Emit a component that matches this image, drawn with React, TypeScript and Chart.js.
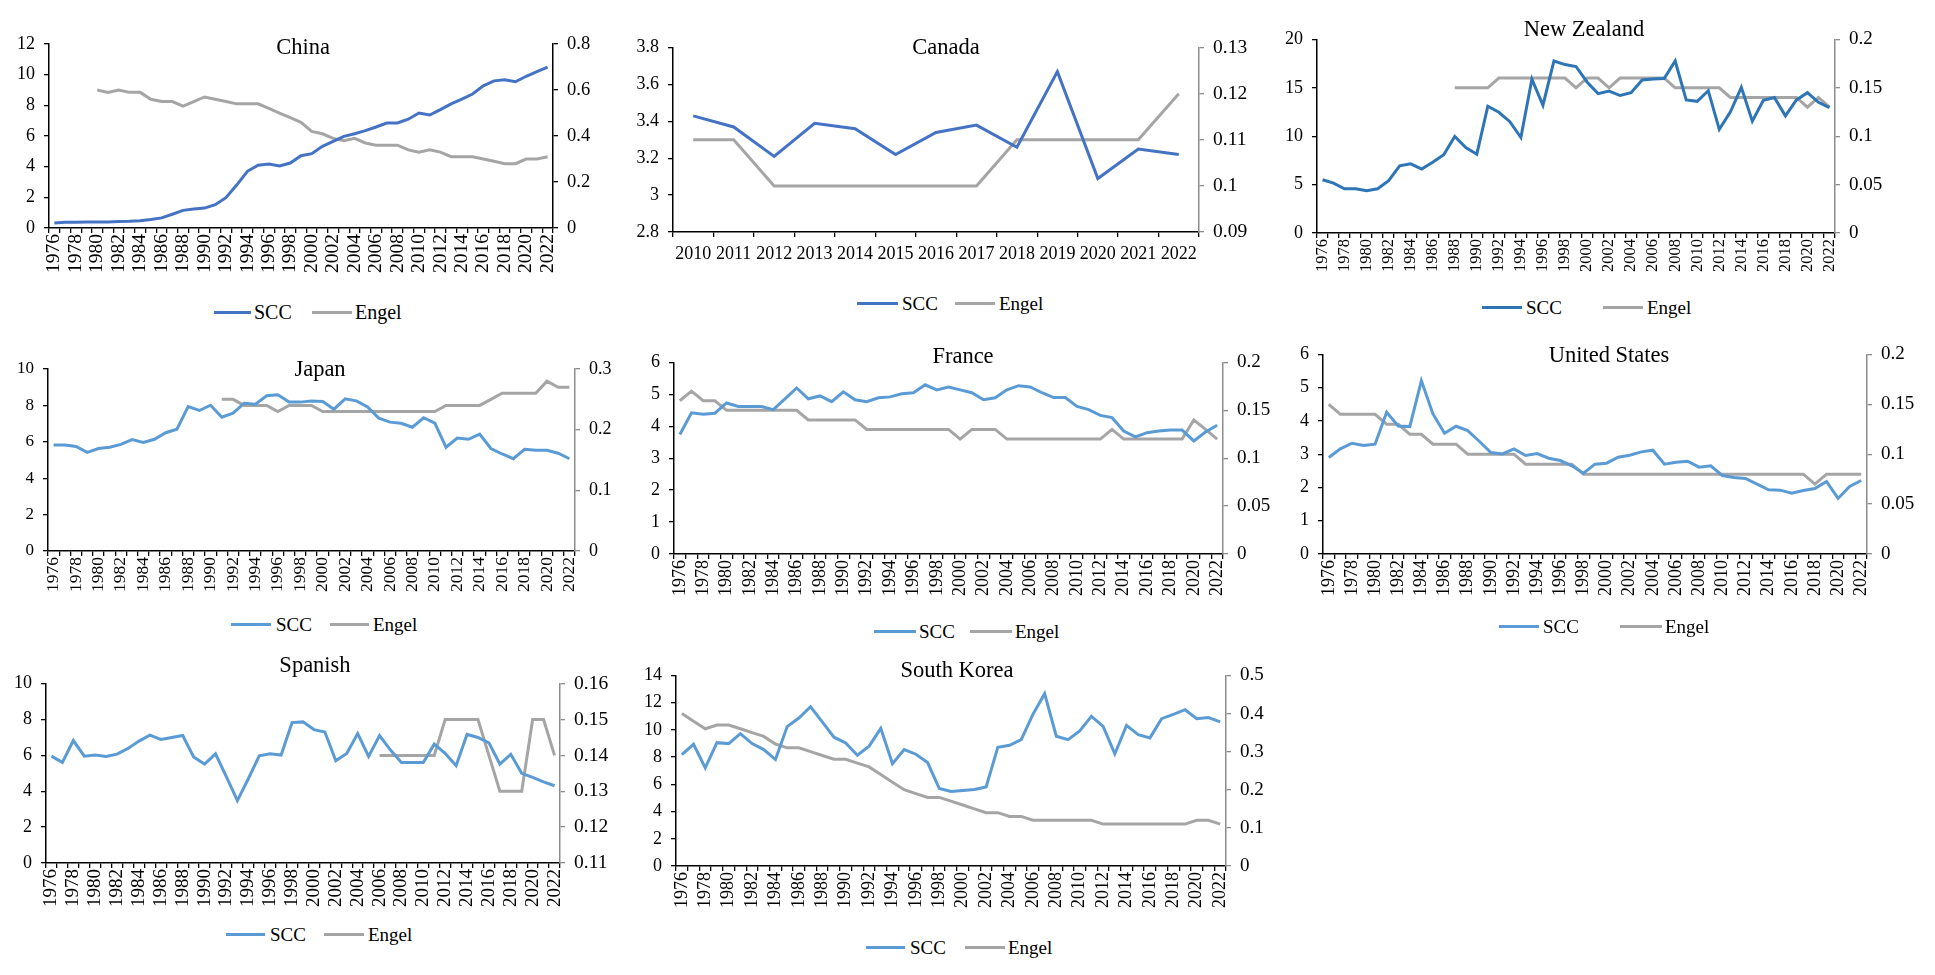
import React, { useEffect, useRef } from "react";
import { Chart, registerables } from "chart.js";

Chart.register(...registerables);

// ---------- categories ----------
const YEARS = [
  "1976", "1977", "1978", "1979", "1980", "1981", "1982", "1983", "1984", "1985",
  "1986", "1987", "1988", "1989", "1990", "1991", "1992", "1993", "1994", "1995",
  "1996", "1997", "1998", "1999", "2000", "2001", "2002", "2003", "2004", "2005",
  "2006", "2007", "2008", "2009", "2010", "2011", "2012", "2013", "2014", "2015",
  "2016", "2017", "2018", "2019", "2020", "2021", "2022",
];
const CANADA_YEARS = [
  "2010", "2011", "2012", "2013", "2014", "2015", "2016", "2017", "2018", "2019", "2020", "2021", "2022",
];
const SERIES_NAMES = ["SCC", "Engel"];

// ---------- data ----------
const CHINA_SCC = [
  0.33, 0.37, 0.38, 0.39, 0.39, 0.39, 0.42, 0.44, 0.48, 0.55,
  0.66, 0.9, 1.15, 1.24, 1.3, 1.52, 1.98, 2.8, 3.7, 4.1,
  4.17, 4.05, 4.24, 4.72, 4.85, 5.33, 5.65, 5.98, 6.15, 6.35,
  6.59, 6.85, 6.85, 7.1, 7.5, 7.37, 7.72, 8.1, 8.41, 8.74,
  9.28, 9.6, 9.67, 9.54, 9.9, 10.2, 10.5,
];
const CHINA_ENGEL = [
  null, null, null, null, 0.6, 0.59, 0.6, 0.59, 0.59, 0.56,
  0.55, 0.55, 0.53, 0.55, 0.57, 0.56, 0.55, 0.54, 0.54, 0.54,
  0.52, 0.5, 0.48, 0.46, 0.42, 0.41, 0.39, 0.38, 0.39, 0.37,
  0.36, 0.36, 0.36, 0.34, 0.33, 0.34, 0.33, 0.31, 0.31, 0.31,
  0.3, 0.29, 0.28, 0.28, 0.3, 0.3, 0.31,
];
const CANADA_SCC = [3.43, 3.37, 3.21, 3.39, 3.36, 3.22, 3.34, 3.38, 3.26, 3.67, 3.09, 3.25, 3.22];
const CANADA_ENGEL = [0.11, 0.11, 0.1, 0.1, 0.1, 0.1, 0.1, 0.1, 0.11, 0.11, 0.11, 0.11, 0.12];
const NZ_SCC = [
  5.5, 5.15, 4.57, 4.57, 4.36, 4.57, 5.4, 6.94, 7.15, 6.6,
  7.3, 8.08, 9.97, 8.83, 8.14, 13.1, 12.47, 11.5, 9.86, 15.9,
  13.2, 17.77, 17.4, 17.2, 15.6, 14.4, 14.67, 14.2, 14.5, 15.8,
  15.9, 15.95, 17.77, 13.75, 13.6, 14.7, 10.7, 12.5, 15.05, 11.55,
  13.7, 14.0, 12.1, 13.75, 14.5, 13.5, 12.95,
];
const NZ_ENGEL = [
  null, null, null, null, null, null, null, null, null, null,
  null, null, 0.15, 0.15, 0.15, 0.15, 0.16, 0.16, 0.16, 0.16,
  0.16, 0.16, 0.16, 0.15, 0.16, 0.16, 0.15, 0.16, 0.16, 0.16,
  0.16, 0.16, 0.15, 0.15, 0.15, 0.15, 0.15, 0.14, 0.14, 0.14,
  0.14, 0.14, 0.14, 0.14, 0.13, 0.14, 0.13,
];
const JAPAN_SCC = [
  5.83, 5.83, 5.74, 5.42, 5.63, 5.7, 5.86, 6.12, 5.97, 6.14,
  6.5, 6.69, 7.94, 7.72, 8.01, 7.35, 7.57, 8.12, 8.07, 8.53,
  8.58, 8.18, 8.18, 8.24, 8.22, 7.79, 8.36, 8.25, 7.92, 7.3,
  7.08, 7.02, 6.8, 7.32, 7.02, 5.7, 6.21, 6.14, 6.42, 5.63,
  5.33, 5.07, 5.59, 5.53, 5.53, 5.37, 5.07,
];
const JAPAN_ENGEL = [
  null, null, null, null, null, null, null, null, null, null,
  null, null, null, null, null, 0.25, 0.25, 0.24, 0.24, 0.24,
  0.23, 0.24, 0.24, 0.24, 0.23, 0.23, 0.23, 0.23, 0.23, 0.23,
  0.23, 0.23, 0.23, 0.23, 0.23, 0.24, 0.24, 0.24, 0.24, 0.25,
  0.26, 0.26, 0.26, 0.26, 0.28, 0.27, 0.27,
];
const FRANCE_SCC = [
  3.74, 4.42, 4.38, 4.41, 4.73, 4.62, 4.62, 4.62, 4.52, 4.86,
  5.2, 4.86, 4.95, 4.77, 5.08, 4.83, 4.77, 4.89, 4.92, 5.02,
  5.05, 5.3, 5.14, 5.23, 5.14, 5.05, 4.83, 4.89, 5.14, 5.27,
  5.23, 5.05, 4.9, 4.9, 4.62, 4.52, 4.34, 4.27, 3.85, 3.67,
  3.8, 3.85, 3.88, 3.88, 3.54, 3.82, 4.03,
];
const FRANCE_ENGEL = [
  0.16, 0.17, 0.16, 0.16, 0.15, 0.15, 0.15, 0.15, 0.15, 0.15,
  0.15, 0.14, 0.14, 0.14, 0.14, 0.14, 0.13, 0.13, 0.13, 0.13,
  0.13, 0.13, 0.13, 0.13, 0.12, 0.13, 0.13, 0.13, 0.12, 0.12,
  0.12, 0.12, 0.12, 0.12, 0.12, 0.12, 0.12, 0.13, 0.12, 0.12,
  0.12, 0.12, 0.12, 0.12, 0.14, 0.13, 0.12,
];
const US_SCC = [
  2.9, 3.16, 3.33, 3.26, 3.3, 4.26, 3.85, 3.83, 5.21, 4.21,
  3.63, 3.84, 3.71, 3.39, 3.05, 3.01, 3.16, 2.96, 3.02, 2.88,
  2.81, 2.65, 2.43, 2.7, 2.73, 2.91, 2.97, 3.07, 3.12, 2.7,
  2.76, 2.79, 2.61, 2.65, 2.36, 2.3, 2.27, 2.1, 1.93, 1.92,
  1.83, 1.91, 1.97, 2.18, 1.67, 2.03, 2.21,
];
const US_ENGEL = [
  0.15, 0.14, 0.14, 0.14, 0.14, 0.13, 0.13, 0.12, 0.12, 0.11,
  0.11, 0.11, 0.1, 0.1, 0.1, 0.1, 0.1, 0.09, 0.09, 0.09,
  0.09, 0.09, 0.08, 0.08, 0.08, 0.08, 0.08, 0.08, 0.08, 0.08,
  0.08, 0.08, 0.08, 0.08, 0.08, 0.08, 0.08, 0.08, 0.08, 0.08,
  0.08, 0.08, 0.07, 0.08, 0.08, 0.08, 0.08,
];
const SPAIN_SCC = [
  5.96, 5.61, 6.83, 5.96, 6.02, 5.94, 6.07, 6.39, 6.8, 7.13,
  6.89, 7.0, 7.11, 5.91, 5.52, 6.09, 4.8, 3.48, 4.7, 5.98,
  6.09, 6.02, 7.83, 7.87, 7.44, 7.31, 5.7, 6.11, 7.22, 5.94,
  7.11, 6.3, 5.61, 5.61, 5.61, 6.63, 6.11, 5.43, 7.17, 7.0,
  6.7, 5.52, 6.06, 5.0, 4.78, 4.52, 4.31,
];
const SPAIN_ENGEL = [
  null, null, null, null, null, null, null, null, null, null,
  null, null, null, null, null, null, null, null, null, null,
  null, null, null, null, null, null, null, null, null, null,
  0.14, 0.14, 0.14, 0.14, 0.14, 0.14, 0.15, 0.15, 0.15, 0.15,
  0.14, 0.13, 0.13, 0.13, 0.15, 0.15, 0.14,
];
const KOREA_SCC = [
  8.18, 8.94, 7.21, 9.06, 8.99, 9.72, 8.99, 8.55, 7.82, 10.24,
  10.87, 11.7, 10.58, 9.46, 9.04, 8.14, 8.8, 10.11, 7.52, 8.55,
  8.21, 7.6, 5.69, 5.47, 5.55, 5.62, 5.81, 8.72, 8.87, 9.28,
  11.14, 12.66, 9.53, 9.28, 9.92, 10.99, 10.26, 8.23, 10.33, 9.65,
  9.41, 10.82, 11.14, 11.48, 10.82, 10.9, 10.58,
];
const KOREA_ENGEL = [
  0.4, 0.38, 0.36, 0.37, 0.37, 0.36, 0.35, 0.34, 0.32, 0.31,
  0.31, 0.3, 0.29, 0.28, 0.28, 0.27, 0.26, 0.24, 0.22, 0.2,
  0.19, 0.18, 0.18, 0.17, 0.16, 0.15, 0.14, 0.14, 0.13, 0.13,
  0.12, 0.12, 0.12, 0.12, 0.12, 0.12, 0.11, 0.11, 0.11, 0.11,
  0.11, 0.11, 0.11, 0.11, 0.12, 0.12, 0.11,
];

// ---------- styles ----------
const FONT = "'Liberation Serif', 'Times New Roman', serif";
const BLUE_A = "#4472C4";
const BLUE_B = "#2E75B6";
const BLUE_C = "#5B9BD5";
const GRAY = "#A5A5A5";
const AXIS_BLACK = "#000000";
const AXIS_GRAY = "#8C8C8C";

type Panel = {
  title: string;
  labels: string[];
  scc: (number | null)[];
  engel: (number | null)[];
  yMin: number; yMax: number; yStep: number;
  y1Min: number; y1Max: number; y1Step: number;
  L: number; R: number; T: number; B: number;
  titleX: number; titleY: number;
  legY: number; leg: number[];
  blue: string; rightAxis: string;
  rotate: boolean; xFont: number; yFont: number; y1Font: number; legFont: number;
};

const PANELS: Panel[] = [
  {
    title: "China", labels: YEARS, scc: CHINA_SCC, engel: CHINA_ENGEL,
    yMin: 0, yMax: 12, yStep: 2, y1Min: 0, y1Max: 0.8, y1Step: 0.2,
    L: 49, R: 553, T: 44, B: 228, titleX: 303, titleY: 47,
    legY: 312, leg: [214, 251, 254, 312, 352, 355],
    blue: BLUE_A, rightAxis: AXIS_BLACK, rotate: true, xFont: 19.5, yFont: 18, y1Font: 18.5, legFont: 20,
  },
  {
    title: "Canada", labels: CANADA_YEARS, scc: CANADA_SCC, engel: CANADA_ENGEL,
    yMin: 2.8, yMax: 3.8, yStep: 0.2, y1Min: 0.09, y1Max: 0.13, y1Step: 0.01,
    L: 673, R: 1199, T: 47, B: 232, titleX: 946, titleY: 47,
    legY: 303, leg: [857, 898, 902, 955, 995, 999],
    blue: BLUE_A, rightAxis: AXIS_GRAY, rotate: false, xFont: 18, yFont: 18, y1Font: 19.5, legFont: 19,
  },
  {
    title: "New Zealand", labels: YEARS, scc: NZ_SCC, engel: NZ_ENGEL,
    yMin: 0, yMax: 20, yStep: 5, y1Min: 0, y1Max: 0.2, y1Step: 0.05,
    L: 1317, R: 1835, T: 39, B: 233, titleX: 1584, titleY: 29,
    legY: 307, leg: [1482, 1522, 1526, 1603, 1643, 1647],
    blue: BLUE_B, rightAxis: AXIS_GRAY, rotate: true, xFont: 16.5, yFont: 18, y1Font: 19, legFont: 19,
  },
  {
    title: "Japan", labels: YEARS, scc: JAPAN_SCC, engel: JAPAN_ENGEL,
    yMin: 0, yMax: 10, yStep: 2, y1Min: 0, y1Max: 0.3, y1Step: 0.1,
    L: 48, R: 575, T: 369, B: 551, titleX: 320, titleY: 369,
    legY: 624, leg: [231, 271, 276, 330, 369, 373],
    blue: BLUE_C, rightAxis: AXIS_GRAY, rotate: true, xFont: 17.5, yFont: 17, y1Font: 18, legFont: 19,
  },
  {
    title: "France", labels: YEARS, scc: FRANCE_SCC, engel: FRANCE_ENGEL,
    yMin: 0, yMax: 6, yStep: 1, y1Min: 0, y1Max: 0.2, y1Step: 0.05,
    L: 674, R: 1223, T: 362, B: 554, titleX: 963, titleY: 356,
    legY: 631, leg: [874, 916, 919, 970, 1012, 1015],
    blue: BLUE_C, rightAxis: AXIS_GRAY, rotate: true, xFont: 18, yFont: 18, y1Font: 19, legFont: 19,
  },
  {
    title: "United States", labels: YEARS, scc: US_SCC, engel: US_ENGEL,
    yMin: 0, yMax: 6, yStep: 1, y1Min: 0, y1Max: 0.2, y1Step: 0.05,
    L: 1323, R: 1867, T: 354, B: 554, titleX: 1609, titleY: 355,
    legY: 626, leg: [1499, 1539, 1543, 1620, 1662, 1665],
    blue: BLUE_C, rightAxis: AXIS_GRAY, rotate: true, xFont: 18, yFont: 18, y1Font: 19, legFont: 19,
  },
  {
    title: "Spanish", labels: YEARS, scc: SPAIN_SCC, engel: SPAIN_ENGEL,
    yMin: 0, yMax: 10, yStep: 2, y1Min: 0.11, y1Max: 0.16, y1Step: 0.01,
    L: 46, R: 560, T: 683, B: 863, titleX: 315, titleY: 665,
    legY: 934, leg: [226, 265, 270, 324, 364, 368],
    blue: BLUE_C, rightAxis: AXIS_GRAY, rotate: true, xFont: 19, yFont: 18, y1Font: 19.5, legFont: 19,
  },
  {
    title: "South Korea", labels: YEARS, scc: KOREA_SCC, engel: KOREA_ENGEL,
    yMin: 0, yMax: 14, yStep: 2, y1Min: 0, y1Max: 0.5, y1Step: 0.1,
    L: 676, R: 1226, T: 675, B: 866, titleX: 957, titleY: 670,
    legY: 947, leg: [866, 905, 910, 965, 1005, 1008],
    blue: BLUE_C, rightAxis: AXIS_GRAY, rotate: true, xFont: 18, yFont: 18, y1Font: 19, legFont: 19,
  },
];

const YL = 44; // left axis box width
const YR = 64; // right axis box width
const PADT = 20; // top padding in canvas
const XH = 60; // bottom axis box height

const fmt = (v: number | string) => String(Math.round(Number(v) * 10000) / 10000);

function ChartPanel({ p }: { p: Panel }) {
  const ref = useRef<HTMLCanvasElement | null>(null);
  const w = p.R - p.L + YL + YR;
  const h = p.B - p.T + PADT + XH;

  useEffect(() => {
    if (!ref.current) return;
    const labels = p.labels;
    const chart = new Chart(ref.current, {
      type: "line",
      data: {
        labels,
        datasets: [
          {
            label: SERIES_NAMES[0], data: p.scc, borderColor: p.blue, backgroundColor: p.blue,
            borderWidth: 3, pointRadius: 0, tension: 0, yAxisID: "y", order: 1,
          },
          {
            label: SERIES_NAMES[1], data: p.engel, borderColor: GRAY, backgroundColor: GRAY,
            borderWidth: 3, pointRadius: 0, tension: 0, yAxisID: "y1", order: 2,
          },
        ],
      },
      options: {
        responsive: false,
        animation: false,
        devicePixelRatio: 1,
        layout: { padding: { left: 0, right: 0, top: PADT, bottom: 0 } },
        plugins: { legend: { display: false }, title: { display: false }, tooltip: { enabled: false } },
        scales: {
          x: {
            type: "category",
            offset: true,
            grid: { offset: true, drawOnChartArea: false, drawTicks: true, tickLength: 5, color: AXIS_BLACK, lineWidth: 1.3 },
            border: { display: true, color: AXIS_BLACK, width: 1.5 },
            ticks: {
              autoSkip: false,
              maxRotation: p.rotate ? 90 : 0,
              minRotation: p.rotate ? 90 : 0,
              padding: p.rotate ? 1 : 6,
              color: "#000",
              font: { family: FONT, size: p.xFont },
              callback: (_v: any, i: number) => (p.rotate ? (i % 2 === 0 ? labels[i] : "") : labels[i]),
            },
            afterFit: (s: any) => { s.height = XH; },
          },
          y: {
            type: "linear", position: "left", min: p.yMin, max: p.yMax,
            grid: { drawOnChartArea: false, drawTicks: true, tickLength: 5, color: AXIS_BLACK, lineWidth: 1.3 },
            border: { display: true, color: AXIS_BLACK, width: 1.5 },
            ticks: { stepSize: p.yStep, padding: 9, color: "#000", font: { family: FONT, size: p.yFont }, callback: fmt },
            afterFit: (s: any) => { s.width = YL; },
          },
          y1: {
            type: "linear", position: "right", min: p.y1Min, max: p.y1Max,
            grid: { drawOnChartArea: false, drawTicks: true, tickLength: 5, color: p.rightAxis, lineWidth: 1.3 },
            border: { display: true, color: p.rightAxis, width: 1.5 },
            ticks: { stepSize: p.y1Step, padding: 9, color: "#000", font: { family: FONT, size: p.y1Font }, callback: fmt },
            afterFit: (s: any) => { s.width = YR; },
          },
        },
      },
    } as any);
    return () => chart.destroy();
  }, [p]);

  const textStyle = (size: number): React.CSSProperties => ({
    position: "absolute", fontFamily: FONT, fontSize: size, lineHeight: 1, color: "#000", whiteSpace: "nowrap",
  });

  return (
    <>
      <canvas
        ref={ref}
        width={w}
        height={h}
        style={{ position: "absolute", left: p.L - YL, top: p.T - PADT, width: w, height: h }}
      />
      <div style={{ ...textStyle(22.5), left: p.titleX, top: p.titleY, transform: "translate(-50%, -50%)" }}>{p.title}</div>
      <div style={{ position: "absolute", left: p.leg[0], top: p.legY - 1.5, width: p.leg[1] - p.leg[0], height: 3, background: p.blue }} />
      <div style={{ ...textStyle(p.legFont), left: p.leg[2], top: p.legY, transform: "translateY(-50%)" }}>{SERIES_NAMES[0]}</div>
      <div style={{ position: "absolute", left: p.leg[3], top: p.legY - 1.5, width: p.leg[4] - p.leg[3], height: 3, background: GRAY }} />
      <div style={{ ...textStyle(p.legFont), left: p.leg[5], top: p.legY, transform: "translateY(-50%)" }}>{SERIES_NAMES[1]}</div>
    </>
  );
}

export default function App() {
  return (
    <div style={{ position: "absolute", left: 0, top: 0, width: 1935, height: 975, background: "#fff", overflow: "hidden" }}>
      {PANELS.map((p) => (
        <ChartPanel key={p.title} p={p} />
      ))}
    </div>
  );
}
